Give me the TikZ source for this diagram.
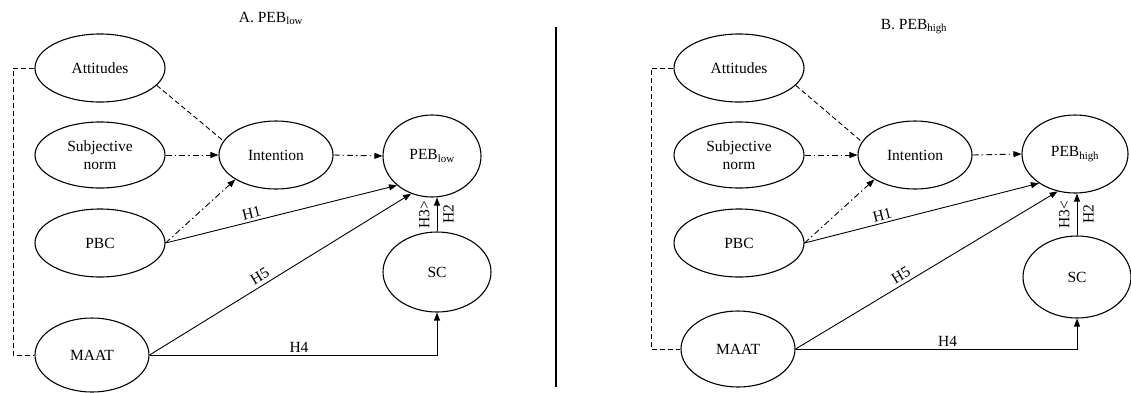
\documentclass[tikz,border=0pt]{standalone}
\usepackage{fontspec}
\setmainfont{Liberation Serif}
\usetikzlibrary{shapes.geometric,arrows.meta}
\begin{document}
\begin{tikzpicture}[x=1pt,y=-1pt,
  txt/.style={font=\fontsize{15.5}{18}\selectfont},
  construct/.style={draw, ellipse, line width=1.1pt, inner sep=0pt, align=center, txt},
  link/.style={line width=0.9pt},
  tip/.style={-{Triangle[length=8pt,width=6pt]}},
  dashlink/.style={link, dash pattern=on 5pt off 3pt},
  dotdash/.style={link, dash pattern=on 6pt off 3pt on 1.5pt off 3pt},
  hlabel/.style={txt, inner sep=1pt},
  title/.style={txt, anchor=base, inner sep=0pt},
]
\useasboundingbox (0,0) rectangle (1131,392);

% ---------- panel A ----------
\node[title] (tA) at (271,22) {A. PEB\textsubscript{low}};
\node[construct, minimum width=130pt, minimum height=68pt] (a1) at (100,68) {Attitudes};
\node[construct, minimum width=130pt, minimum height=66pt] (s1) at (100,155) {Subjective\\norm};
\node[construct, minimum width=130pt, minimum height=68pt] (p1) at (100,243) {PBC};
\node[construct, minimum width=114pt, minimum height=74pt] (m1) at (92,355) {MAAT};
\node[construct, minimum width=114pt, minimum height=68pt] (i1) at (276,155) {Intention};
\node[construct, minimum width=98pt, minimum height=82pt] (e1) at (432,156) {PEB\textsubscript{low}};
\node[construct, minimum width=108pt, minimum height=80pt] (c1) at (437,272) {SC};
\coordinate (k1) at (13,0);

\draw[dashlink] (a1.west) -- (a1.west -| k1) -- (m1.west -| k1) -- (m1.west);
\draw[dashlink] (a1.-17) -- (i1.165);
\draw[dotdash, tip] (s1.east) -- (i1.west);
\draw[dotdash, tip] (p1.east) -- (i1.211);
\draw[dotdash, tip] (i1.east) -- (e1.west);
\draw[link, tip] (p1.east) -- node[hlabel, sloped, above=1.5pt, pos=0.38] {H1} (e1.220);
\draw[link, tip] (m1.east) -- node[hlabel, sloped, above=2.5pt, pos=0.44] {H5} (e1.241);
\draw[link, tip] (m1.east) -| node[hlabel, above=1pt, pos=0.26] {H4} (c1.south);
\draw[link, tip] (c1.north) -- node[hlabel, sloped, above=6pt] {H3>} node[hlabel, sloped, below=5pt] {H2} (c1.north |- e1.south);

% ---------- divider ----------
\coordinate (d1) at (556,27);
\coordinate (d2) at (556,387);
\draw[line width=2.6pt] (d1) -- (d2);

% ---------- panel B ----------
\node[title] (tB) at (914,29) {B. PEB\textsubscript{high}};
\node[construct, minimum width=130pt, minimum height=68pt] (a2) at (739,68) {Attitudes};
\node[construct, minimum width=130pt, minimum height=66pt] (s2) at (739,155) {Subjective\\norm};
\node[construct, minimum width=130pt, minimum height=68pt] (p2) at (739,243) {PBC};
\node[construct, minimum width=114pt, minimum height=76pt] (m2) at (738,349) {MAAT};
\node[construct, minimum width=114pt, minimum height=68pt] (i2) at (915,155) {Intention};
\node[construct, minimum width=106pt, minimum height=78pt] (e2) at (1075,154) {PEB\textsubscript{high}};
\node[construct, minimum width=108pt, minimum height=82pt] (c2) at (1077,277) {SC};
\coordinate (k2) at (651,0);

\draw[dashlink] (a2.west) -- (a2.west -| k2) -- (m2.west -| k2) -- (m2.west);
\draw[dashlink] (a2.-17) -- (i2.166);
\draw[dotdash, tip] (s2.east) -- (i2.west);
\draw[dotdash, tip] (p2.east) -- (i2.211);
\draw[dotdash, tip] (i2.east) -- (e2.west);
\draw[link, tip] (p2.east) -- node[hlabel, sloped, above=1.5pt, pos=0.34] {H1} (e2.219);
\draw[link, tip] (m2.east) -- node[hlabel, sloped, above=2.5pt, pos=0.42] {H5} (e2.245);
\draw[link, tip] (m2.east) -| node[hlabel, above=1pt, pos=0.27] {H4} (c2.south);
\draw[link, tip] (c2.north) -- node[hlabel, sloped, above=6pt] {H3<} node[hlabel, sloped, below=5pt] {H2} (c2.north |- e2.south);
\end{tikzpicture}
\end{document}
